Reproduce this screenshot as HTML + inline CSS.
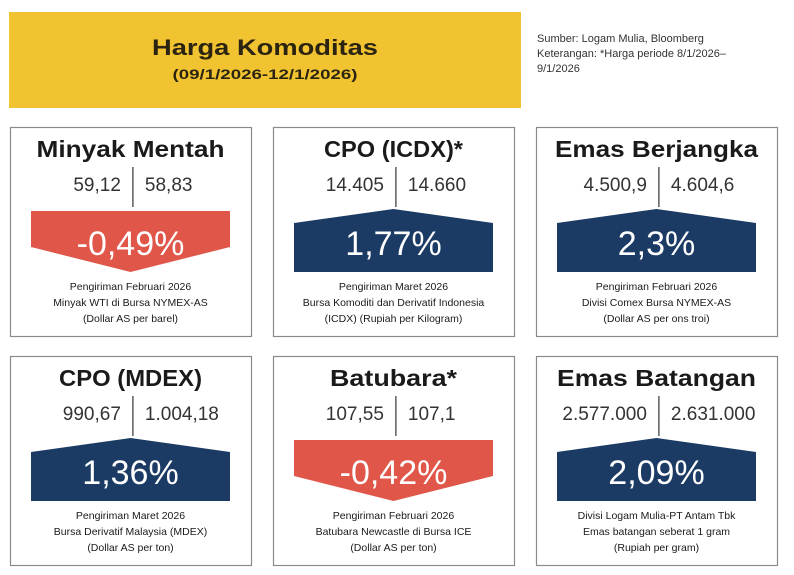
<!DOCTYPE html>
<html><head><meta charset="utf-8"><style>
body{margin:0;background:#fff;width:794px;height:575px;overflow:hidden;font-family:"Liberation Sans",sans-serif}
svg{display:block}
</style></head><body>
<svg id="c" width="794" height="575" xmlns="http://www.w3.org/2000/svg">
<rect x="9" y="12" width="512" height="96" fill="#F2C330"/>
<text x="265" y="55" text-anchor="middle" font-size="22" font-weight="bold" fill="#2a2410" textLength="226" lengthAdjust="spacingAndGlyphs">Harga Komoditas</text>
<text x="265" y="79" text-anchor="middle" font-size="14" font-weight="bold" fill="#2a2410" textLength="185" lengthAdjust="spacingAndGlyphs">(09/1/2026-12/1/2026)</text>
<text x="537" y="42" font-size="11" fill="#333">Sumber: Logam Mulia, Bloomberg</text>
<text x="537" y="57" font-size="11" fill="#333">Keterangan: *Harga periode 8/1/2026–</text>
<text x="537" y="72" font-size="11" fill="#333">9/1/2026</text>
</svg>
<script>
const titles=["Minyak Mentah","CPO (ICDX)*","Emas Berjangka","CPO (MDEX)","Batubara*","Emas Batangan"];
const prevValues=["59,12","14.405","4.500,9","990,67","107,55","2.577.000"];
const currValues=["58,83","14.660","4.604,6","1.004,18","107,1","2.631.000"];
const changes=["-0,49%","1,77%","2,3%","1,36%","-0,42%","2,09%"];
const notes=[
["Pengiriman Februari 2026","Minyak WTI di Bursa NYMEX-AS","(Dollar AS per barel)"],
["Pengiriman Maret 2026","Bursa Komoditi dan Derivatif Indonesia","(ICDX) (Rupiah per Kilogram)"],
["Pengiriman Februari 2026","Divisi Comex Bursa NYMEX-AS","(Dollar AS per ons troi)"],
["Pengiriman Maret 2026","Bursa Derivatif Malaysia (MDEX)","(Dollar AS per ton)"],
["Pengiriman Februari 2026","Batubara Newcastle di Bursa ICE","(Dollar AS per ton)"],
["Divisi Logam Mulia-PT Antam Tbk","Emas batangan seberat 1 gram","(Rupiah per gram)"]];
const titleW=[188,139,203,143,127,199];
const svg=document.getElementById('c');const NS="http://www.w3.org/2000/svg";
function mk(t,a,txt){const e=document.createElementNS(NS,t);for(const k in a)e.setAttribute(k,a[k]);if(txt!==undefined)e.textContent=txt;svg.appendChild(e);return e;}
const cardX=[10,273,536],cardY=[127,356],cardW=241,cardH=209;
for(let i=0;i<6;i++){
 const x=cardX[i%3],y=cardY[Math.floor(i/3)],cx=x+cardW/2;
 let e=mk('rect',{x:x+0.5,y:y+0.5,width:cardW,height:cardH,fill:'#fff',stroke:'#8a8a8a','stroke-width':1.2});
 
 
 e=mk('text',{x:cx,y:y+30,'text-anchor':'middle','font-size':23,'font-weight':'bold',fill:'#1a1a1a',textLength:titleW[i],lengthAdjust:'spacingAndGlyphs'},titles[i]);
 
 
 const dx=x+cardW*0.51;
 e=mk('line',{x1:dx,y1:y+40,x2:dx,y2:y+80,stroke:'#333','stroke-width':1.2});
 
 
 e=mk('text',{x:dx-12,y:y+64,'text-anchor':'end','font-size':19,fill:'#333'},prevValues[i]);
 
 
 e=mk('text',{x:dx+12,y:y+64,'text-anchor':'start','font-size':19,fill:'#333'},currValues[i]);
 
 
 const neg=changes[i].startsWith('-');
 const l=x+21,r=x+cardW-21;let pts;
 if(neg){pts=`${l},${y+84} ${r},${y+84} ${r},${y+120} ${cx},${y+145} ${l},${y+120}`;}
 else{pts=`${cx},${y+82} ${r},${y+96} ${r},${y+145} ${l},${y+145} ${l},${y+96}`;}
 e=mk('polygon',{points:pts,fill:neg?'#E0574A':'#1B3B64'});
 
 
 e=mk('text',{x:cx,y:y+128,'text-anchor':'middle','font-size':34,fill:'#fff'},changes[i]);
 
 
 for(let j=0;j<3;j++){
  e=mk('text',{x:cx,y:y+163+j*16,'text-anchor':'middle','font-size':10.5,fill:'#1a1a1a'},notes[i][j]);
  
  
 }
}
</script>
</body></html>
